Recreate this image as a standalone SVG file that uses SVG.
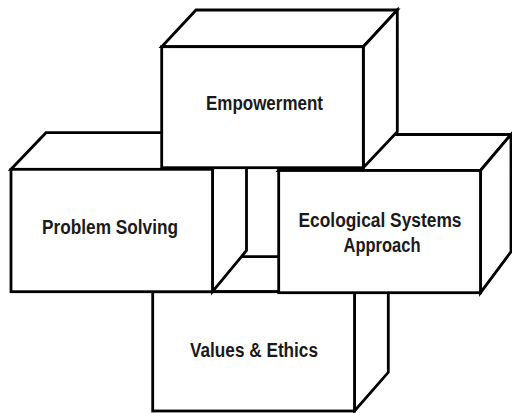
<svg xmlns="http://www.w3.org/2000/svg" width="512" height="413" viewBox="0 0 512 413">
<style>
.f{fill:#fff;stroke:#000;stroke-width:2.8;stroke-linejoin:miter}
.t{font-family:'Liberation Sans Narrow','Liberation Sans',Arial,sans-serif;font-size:20px;font-weight:bold;fill:#1a1a1a;text-anchor:middle}
</style>
<rect width="512" height="413" fill="#fff"/>
<g id="values">
<polygon class="f" points="152.7,291.7 186.7,256.7 388.3,256.7 354.5,291.7"/>
<polygon class="f" points="354.5,291.7 388.3,256.7 388.3,372.3 354.5,411"/>
<rect class="f" x="152.7" y="291.7" width="201.8" height="119.3"/>
<text class="t" x="254" y="356.7" textLength="128" lengthAdjust="spacingAndGlyphs">Values &amp; Ethics</text>
</g>
<g id="ecological">
<polygon class="f" points="278.7,170.5 312.7,134.5 511,134.5 480.5,170.5"/>
<polygon class="f" points="480.5,170.5 511,134.5 511,251.7 480.5,292.7"/>
<rect class="f" x="278.7" y="170.5" width="201.8" height="122.2"/>
<text class="t" x="380" y="226.7" textLength="163" lengthAdjust="spacingAndGlyphs">Ecological Systems</text>
<text class="t" x="382" y="251.7" textLength="77" lengthAdjust="spacingAndGlyphs">Approach</text>
</g>
<g id="problem">
<polygon class="f" points="11,169.3 46,132.7 246.5,132.7 212.5,169.3"/>
<polygon class="f" points="212.5,169.3 246.5,132.7 246.5,250.5 212.5,291.7"/>
<rect class="f" x="11" y="169.3" width="201.5" height="122.4"/>
<text class="t" x="110" y="234.3" textLength="136" lengthAdjust="spacingAndGlyphs">Problem Solving</text>
</g>
<g id="empowerment">
<polygon class="f" points="161.7,46.7 196,10 397.3,10 363.3,46.7"/>
<polygon class="f" points="363.3,46.7 397.3,10 397.3,131.7 363.3,167.7"/>
<rect class="f" x="161.7" y="46.7" width="201.6" height="121"/>
<text class="t" x="264.5" y="110" textLength="117" lengthAdjust="spacingAndGlyphs">Empowerment</text>
</g>
<g id="connectors"/>
</svg>
